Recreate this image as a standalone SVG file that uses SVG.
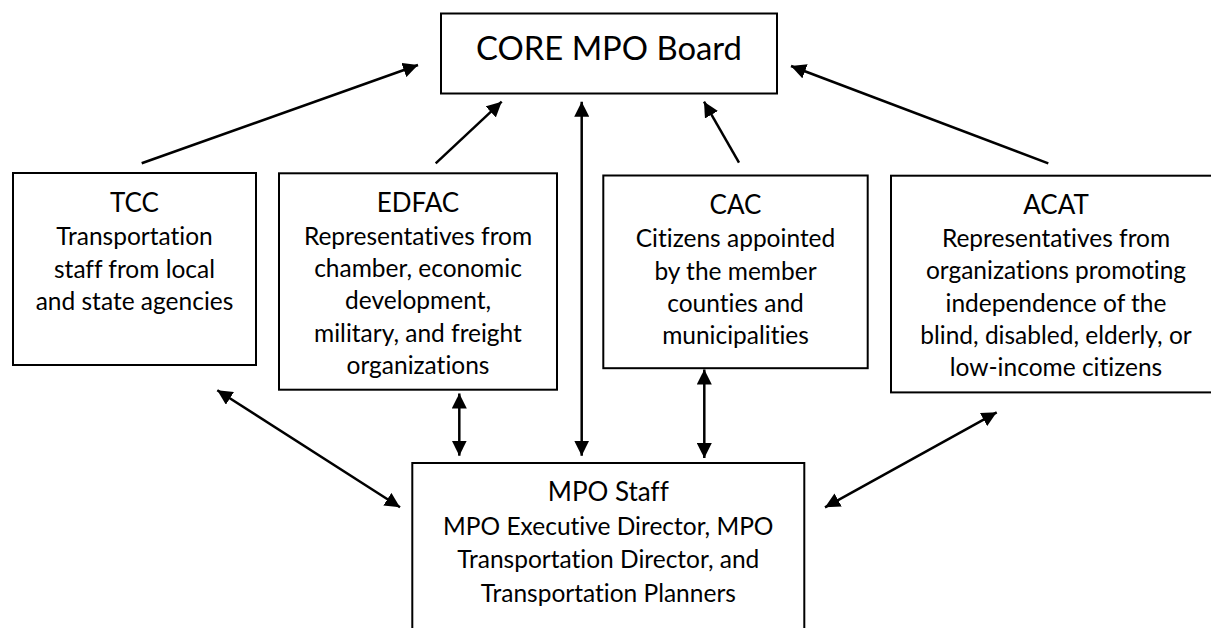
<svg xmlns="http://www.w3.org/2000/svg" width="1211" height="628" viewBox="0 0 1211 628">
  <defs>
    <marker id="ah" markerUnits="userSpaceOnUse" markerWidth="16" markerHeight="15" refX="15" refY="7.5" orient="auto-start-reverse">
      <path d="M0,0 L15,7.5 L0,15 Z" fill="#000"/>
    </marker>
    <style>
      .box { fill: #fff; stroke: #000; stroke-width: 2; }
      .t { font-family: Lato, "Liberation Sans", sans-serif; fill: #000; text-anchor: middle; font-variant-ligatures: none; font-feature-settings: "liga" 0, "clig" 0; }
      .board { font-size: 32.8px; }
      .title { font-size: 26px; }
      .body { font-size: 24.5px; }
      .c { fill: none; stroke: #000; stroke-width: 2.5; }
      .one { marker-end: url(#ah); }
      .two { marker-start: url(#ah); marker-end: url(#ah); }
    </style>
  </defs>
  <rect width="1211" height="628" fill="#fff"/>

  <g id="connectors">
    <line class="c one" x1="141.7" y1="163.3" x2="418" y2="65"/>
    <line class="c one" x1="435.7" y1="163.3" x2="501.7" y2="101.7"/>
    <line class="c two" x1="581.7" y1="455.7" x2="581.7" y2="101.7"/>
    <line class="c one" x1="739" y1="162.7" x2="704" y2="101.7"/>
    <line class="c one" x1="1048.3" y1="163.3" x2="791" y2="66"/>
    <line class="c two" x1="217.3" y1="390.3" x2="400" y2="507.3"/>
    <line class="c two" x1="459.3" y1="393.5" x2="459.3" y2="455.7"/>
    <line class="c two" x1="704.3" y1="369.5" x2="704.3" y2="458"/>
    <line class="c two" x1="996.7" y1="412.3" x2="825" y2="507.3"/>
  </g>

  <g id="board">
    <rect class="box" x="441" y="13.5" width="336" height="80"/>
    <text class="t board" x="609" y="60">CORE MPO Board</text>
  </g>

  <g id="tcc">
    <rect class="box" x="13" y="173" width="243" height="192"/>
    <text class="t title" x="134.5" y="212">TCC</text>
    <text class="t body" x="134.5" y="245">Transportation</text>
    <text class="t body" x="134.5" y="277.5">staff from local</text>
    <text class="t body" x="134.5" y="310">and state agencies</text>
  </g>

  <g id="edfac">
    <rect class="box" x="279" y="173.3" width="278" height="216.4"/>
    <text class="t title" x="418" y="212">EDFAC</text>
    <text class="t body" x="418" y="245">Representatives from</text>
    <text class="t body" x="418" y="277.2">chamber, economic</text>
    <text class="t body" x="418" y="309.4">development,</text>
    <text class="t body" x="418" y="341.6">military, and freight</text>
    <text class="t body" x="418" y="373.8">organizations</text>
  </g>

  <g id="cac">
    <rect class="box" x="603.3" y="175.5" width="264.4" height="192.7"/>
    <text class="t title" x="735.5" y="214">CAC</text>
    <text class="t body" x="735.5" y="247.3">Citizens appointed</text>
    <text class="t body" x="735.5" y="279.5">by the member</text>
    <text class="t body" x="735.5" y="311.7">counties and</text>
    <text class="t body" x="735.5" y="344">municipalities</text>
  </g>

  <g id="acat">
    <rect class="box" x="891" y="175.7" width="330" height="216.7"/>
    <text class="t title" x="1056" y="213.5">ACAT</text>
    <text class="t body" x="1056" y="247">Representatives from</text>
    <text class="t body" x="1056" y="279.3">organizations promoting</text>
    <text class="t body" x="1056" y="311.6">independence of the</text>
    <text class="t body" x="1056" y="343.9">blind, disabled, elderly, or</text>
    <text class="t body" x="1056" y="376.2">low-income citizens</text>
  </g>

  <g id="staff">
    <rect class="box" x="412.3" y="463" width="392" height="200"/>
    <text class="t title" x="608.3" y="501">MPO Staff</text>
    <text class="t body" x="608.3" y="535">MPO Executive Director, MPO</text>
    <text class="t body" x="608.3" y="568">Transportation Director, and</text>
    <text class="t body" x="608.3" y="601.5">Transportation Planners</text>
  </g>
</svg>
